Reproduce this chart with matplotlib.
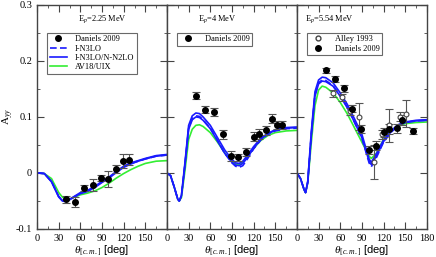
import matplotlib
matplotlib.use('Agg')
import matplotlib.pyplot as plt
from matplotlib.ticker import MultipleLocator, FuncFormatter
from matplotlib.lines import Line2D

# ---- data ----
# panel 1, Ep = 2.25 MeV
th1_dan = [40, 52, 65, 77, 88, 98, 109, 119, 128]
a1_dan = [-0.047, -0.052, -0.027, -0.022, -0.009, -0.011, 0.007, 0.021, 0.024]
e1_dan = [0.006, 0.009, 0.006, 0.011, 0.006, 0.014, 0.007, 0.013, 0.010]

th1_curve = [0, 10, 20, 30, 35, 40, 45, 50, 60, 70, 80, 90, 100, 110, 120, 130, 140, 150, 165, 180]
a1_sol_hi = [0, -0.001, -0.015, -0.042, -0.049, -0.050, -0.047, -0.043, -0.035, -0.031, -0.024, -0.015, -0.007, 0.003, 0.012, 0.018, 0.022, 0.026, 0.031, 0.033]
a1_sol_lo = [0, -0.001, -0.016, -0.043, -0.050, -0.051, -0.048, -0.044, -0.037, -0.033, -0.026, -0.017, -0.009, 0.001, 0.010, 0.016, 0.021, 0.025, 0.030, 0.032]
a1_dash = [0, -0.001, -0.015, -0.042, -0.049, -0.050, -0.048, -0.044, -0.036, -0.032, -0.025, -0.016, -0.008, 0.002, 0.011, 0.017, 0.021, 0.025, 0.030, 0.032]
a1_av18 = [0, -0.001, -0.010, -0.035, -0.043, -0.047, -0.047, -0.044, -0.039, -0.036, -0.032, -0.026, -0.018, -0.009, -0.001, 0.006, 0.012, 0.017, 0.021, 0.022]

# panel 2, Ep = 4 MeV
th2_dan = [40, 53, 65, 77, 88, 99, 110, 120, 128, 137, 145, 153, 160]
a2_dan = [0.138, 0.113, 0.109, 0.069, 0.031, 0.028, 0.038, 0.065, 0.070, 0.076, 0.097, 0.085, 0.086]
e2_dan = [0.006, 0.006, 0.007, 0.008, 0.009, 0.006, 0.007, 0.008, 0.009, 0.008, 0.008, 0.007, 0.007]

th2_curve = [0, 5, 10, 15, 17, 20, 25, 30, 35, 40, 45, 50, 60, 70, 80, 90, 95, 100, 105, 110, 120, 130, 140, 150, 165, 180]
a2_sol_hi = [0, -0.005, -0.025, -0.047, -0.050, -0.040, 0.020, 0.085, 0.102, 0.107, 0.106, 0.100, 0.085, 0.063, 0.041, 0.024, 0.018, 0.017, 0.021, 0.029, 0.047, 0.062, 0.071, 0.077, 0.081, 0.082]
a2_sol_lo = [0, -0.005, -0.025, -0.047, -0.050, -0.041, 0.015, 0.078, 0.095, 0.100, 0.099, 0.094, 0.079, 0.057, 0.035, 0.019, 0.014, 0.013, 0.017, 0.025, 0.044, 0.060, 0.070, 0.076, 0.080, 0.081]
a2_dash = [0, -0.005, -0.025, -0.047, -0.050, -0.041, 0.017, 0.080, 0.097, 0.102, 0.101, 0.095, 0.080, 0.058, 0.035, 0.018, 0.012, 0.010, 0.013, 0.022, 0.043, 0.059, 0.069, 0.075, 0.079, 0.080]
a2_av18 = [0, -0.005, -0.025, -0.047, -0.050, -0.044, 0.005, 0.060, 0.078, 0.085, 0.086, 0.083, 0.072, 0.055, 0.036, 0.021, 0.016, 0.015, 0.019, 0.027, 0.044, 0.058, 0.067, 0.072, 0.075, 0.076]

# panel 3, Ep = 5.54 MeV
th3_dan = [40, 53, 65, 77, 89, 100, 110, 120, 128, 138, 145, 161]
a3_dan = [0.183, 0.168, 0.151, 0.115, 0.079, 0.041, 0.049, 0.073, 0.078, 0.080, 0.094, 0.075]
e3_dan = [0.005, 0.005, 0.006, 0.007, 0.007, 0.007, 0.008, 0.008, 0.009, 0.008, 0.009, 0.006]
th3_alley = [50, 62, 74, 86, 107, 118, 127, 143, 151]
a3_alley = [0.142, 0.135, 0.110, 0.100, 0.020, 0.069, 0.085, 0.100, 0.106]
e3_alley = [0.006, 0.006, 0.006, 0.024, 0.030, 0.008, 0.030, 0.008, 0.024]

th3_curve = [0, 5, 10, 12, 15, 20, 25, 30, 35, 40, 50, 60, 70, 80, 90, 100, 103, 110, 120, 130, 140, 150, 165, 180]
a3_sol_hi = [0, -0.010, -0.030, -0.035, -0.015, 0.075, 0.145, 0.166, 0.171, 0.170, 0.161, 0.143, 0.122, 0.096, 0.069, 0.025, 0.019, 0.034, 0.059, 0.075, 0.086, 0.091, 0.094, 0.095]
a3_sol_lo = [0, -0.010, -0.030, -0.035, -0.017, 0.068, 0.137, 0.159, 0.164, 0.163, 0.155, 0.137, 0.116, 0.090, 0.063, 0.021, 0.015, 0.030, 0.056, 0.073, 0.085, 0.090, 0.093, 0.094]
a3_dash = [0, -0.010, -0.030, -0.035, -0.016, 0.070, 0.140, 0.161, 0.166, 0.165, 0.156, 0.138, 0.117, 0.090, 0.062, 0.018, 0.011, 0.027, 0.055, 0.072, 0.084, 0.090, 0.093, 0.094]
a3_av18 = [0, -0.010, -0.030, -0.035, -0.018, 0.055, 0.120, 0.148, 0.155, 0.153, 0.143, 0.126, 0.105, 0.080, 0.055, 0.030, 0.026, 0.035, 0.060, 0.075, 0.083, 0.088, 0.090, 0.091]

energies = ['E$_p$=2.25 MeV', 'E$_p$=4 MeV', 'E$_p$=5.54 MeV']

BLUE = '#1a1aff'
GREEN = '#33ee33'
SERIF = 'Liberation Serif'

plt.rcParams['mathtext.fontset'] = 'custom'
plt.rcParams['mathtext.rm'] = SERIF
plt.rcParams['mathtext.it'] = SERIF + ':italic'

fig, axes = plt.subplots(1, 3, figsize=(4.36, 2.57), dpi=100, sharey=True)
fig.subplots_adjust(left=0.085, right=0.979, top=0.981, bottom=0.109, wspace=0)

panels = [
    (th1_curve, a1_sol_hi, a1_sol_lo, a1_dash, a1_av18, th1_dan, a1_dan, e1_dan, None),
    (th2_curve, a2_sol_hi, a2_sol_lo, a2_dash, a2_av18, th2_dan, a2_dan, e2_dan, None),
    (th3_curve, a3_sol_hi, a3_sol_lo, a3_dash, a3_av18, th3_dan, a3_dan, e3_dan,
     (th3_alley, a3_alley, e3_alley)),
]

for i, (ax, p) in enumerate(zip(axes, panels)):
    th, hi, lo, da, av, thd, ad, ed, alley = p
    ax.plot(th, av, color=GREEN, lw=1.2)
    ax.plot(th, hi, color=BLUE, lw=1.2)
    ax.plot(th, lo, color=BLUE, lw=1.2)
    ax.plot(th, da, color=BLUE, lw=1.2, ls=(0, (4, 2)))
    if alley is not None:
        ax.errorbar(alley[0], alley[1], yerr=alley[2], fmt='o', mfc='white', mec='#444444',
                    ecolor='#555555', ms=3.5, mew=0.8, capsize=3, elinewidth=0.8, capthick=0.8)
    ax.errorbar(thd, ad, yerr=ed, fmt='o', color='black', ecolor='#555555',
                ms=4, capsize=3, elinewidth=0.8, capthick=0.8)

    ax.set_xlim(0, 180)
    ax.set_ylim(-0.1, 0.3)
    ax.xaxis.set_major_locator(MultipleLocator(30))
    ax.xaxis.set_minor_locator(MultipleLocator(15))
    ax.yaxis.set_major_locator(MultipleLocator(0.1))
    ax.yaxis.set_minor_locator(MultipleLocator(0.05))
    ax.tick_params(which='both', direction='in', top=True, right=True, labelsize=7.5)
    ax.tick_params(which='major', length=5, color='#444444')
    ax.tick_params(which='minor', length=2.5, color='#444444')
    for lab in ax.get_xticklabels() + ax.get_yticklabels():
        lab.set_fontfamily(SERIF)
    for s in ax.spines.values():
        s.set_color('#444444')
        s.set_linewidth(1.0)
    if i < 2:
        ax.xaxis.set_major_formatter(FuncFormatter(lambda v, pos: '' if v >= 180 else '%d' % v))
    ax.set_xlabel(r'$\theta_{[c.m.]}$ [deg]', fontsize=8, fontfamily='Liberation Sans', labelpad=1)
    ax.text(0.5 if i == 0 else (0.39 if i == 1 else 0.25), 0.935, energies[i],
            transform=ax.transAxes, ha='center', va='center', fontsize=6, fontfamily=SERIF)

axes[0].yaxis.set_major_formatter(FuncFormatter(lambda v, pos: '0' if abs(v) < 1e-9 else '%.1f' % v))
axes[0].set_ylabel('A$_{yy}$', fontsize=8, fontfamily=SERIF)
axes[0].yaxis.set_label_coords(-0.16, 0.5)

# legends
h_dan = Line2D([], [], marker='o', color='black', ls='none', ms=4)
h_dash = Line2D([], [], color=BLUE, lw=1.2, ls=(0, (4, 2)))
h_sol = Line2D([], [], color=BLUE, lw=1.2)
h_av = Line2D([], [], color=GREEN, lw=1.2)
h_alley = Line2D([], [], marker='o', mfc='white', mec='#444444', ls='none', ms=3.5)

leg_kw = dict(prop={'family': SERIF, 'size': 6}, frameon=True, fancybox=False,
              edgecolor='#444444', handlelength=2.0, handletextpad=1.0,
              borderpad=0.3, labelspacing=0.15, borderaxespad=0)
l1 = axes[0].legend([h_dan, h_dash, h_sol, h_av],
                    ['Daniels 2009', 'I-N3LO', 'I-N3LO/N-N2LO', 'AV18/UIX'],
                    loc='upper left', bbox_to_anchor=(0.08, 0.875), **leg_kw)
l2 = axes[1].legend([h_dan], ['Daniels 2009'],
                    loc='upper left', bbox_to_anchor=(0.08, 0.875), **leg_kw)
l3 = axes[2].legend([h_alley, h_dan], ['Alley 1993', 'Daniels 2009'],
                    loc='upper left', bbox_to_anchor=(0.08, 0.875), **leg_kw)
for l in (l1, l2, l3):
    l.get_frame().set_linewidth(0.8)

fig.savefig('out.png', dpi=100)
